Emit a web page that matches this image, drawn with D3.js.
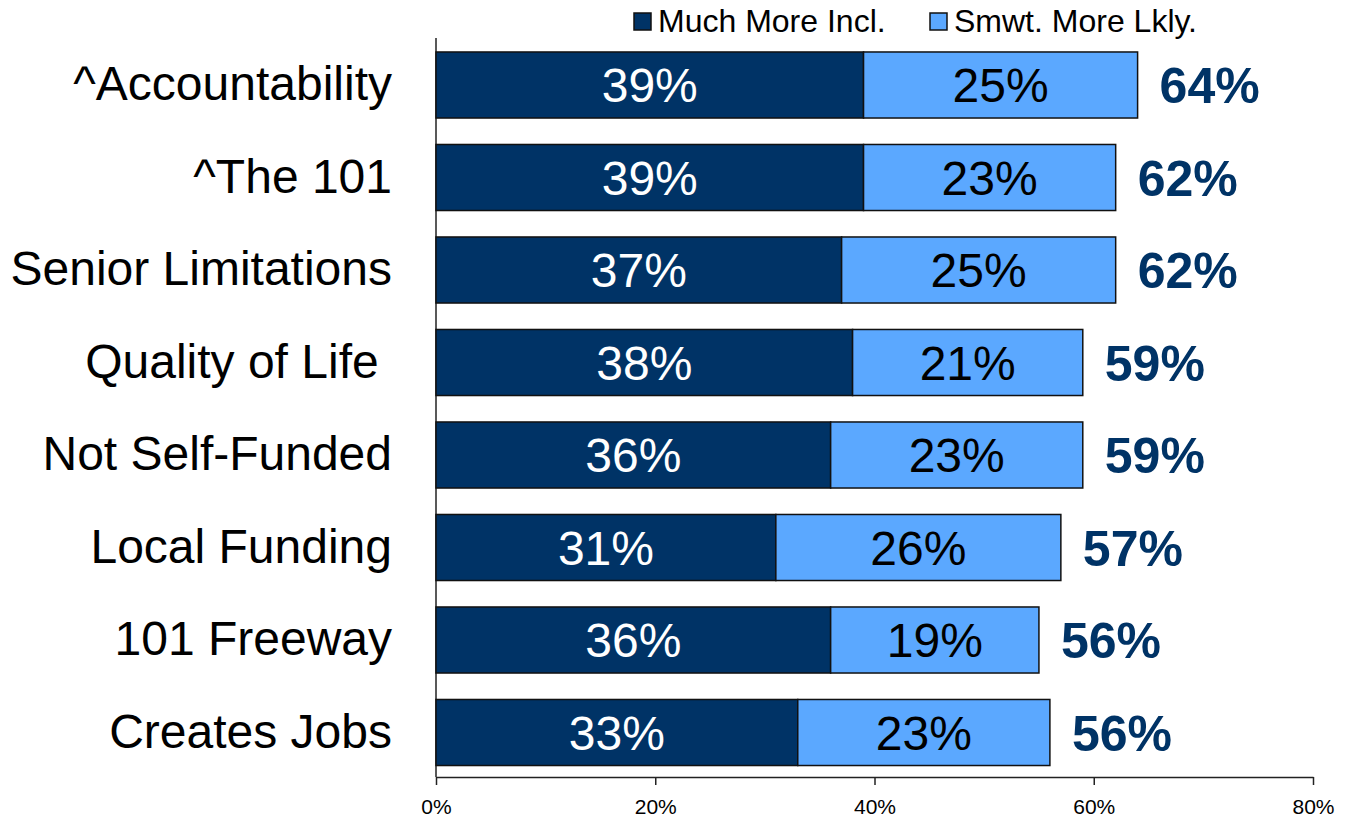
<!DOCTYPE html>
<html>
<head>
<meta charset="utf-8">
<script src="https://cdn.jsdelivr.net/npm/d3@7"></script>
<style>
  body { margin: 0; background: #fff; }
  svg { display: block; font-family: Arial, "Liberation Sans", sans-serif; }
</style>
</head>
<body>
<svg id="chart" width="1346" height="818"></svg>
<script>
const categories = [
  "^Accountability",
  "^The 101",
  "Senior Limitations",
  "Quality of Life ",
  "Not Self-Funded",
  "Local Funding",
  "101 Freeway",
  "Creates Jobs"
];
const muchMore = [39, 39, 37, 38, 36, 31, 36, 33];
const smwtMore = [25, 23, 25, 21, 23, 26, 19, 23];
const totals = [64, 62, 62, 59, 59, 57, 56, 56];
const seriesNames = ["Much More Incl.", "Smwt. More Lkly."];
const tickValues = [0, 20, 40, 60, 80];

const dark = "#003366";
const light = "#5BA8FF";

const svg = d3.select("#chart");

const x = d3.scaleLinear().domain([0, 80]).range([436, 1313]);
const y = d3
  .scaleBand()
  .domain(categories)
  .range([38.75, 778.75])
  .paddingInner(0.286)
  .paddingOuter(0.143);

const rows = categories.map((c, i) => ({
  cat: c,
  a: muchMore[i],
  b: smwtMore[i],
  total: totals[i]
}));

// x axis
const xAxis = svg
  .append("g")
  .attr("transform", "translate(0,777)")
  .call(
    d3
      .axisBottom(x)
      .tickValues(tickValues)
      .tickSize(8)
      .tickSizeOuter(0)
      .tickFormat(d => d + "%")
  );
xAxis.select(".domain").attr("stroke", "#222").attr("stroke-width", 1.5);
xAxis.selectAll(".tick line").attr("stroke", "#222").attr("stroke-width", 1.5);
xAxis
  .selectAll(".tick text")
  .attr("y", 0)
  .attr("dy", 37)
  .attr("fill", "#000")
  .style("font-size", "21px")
  .style("font-family", "Arial, 'Liberation Sans', sans-serif");

// y axis line
svg
  .append("line")
  .attr("x1", x(0))
  .attr("x2", x(0))
  .attr("y1", 38)
  .attr("y2", 777)
  .attr("stroke", "#222")
  .attr("stroke-width", 1.5);

const row = svg
  .selectAll("g.row")
  .data(rows)
  .enter()
  .append("g")
  .classed("row", true);

row
  .append("rect")
  .attr("x", x(0))
  .attr("y", d => y(d.cat))
  .attr("width", d => x(d.a) - x(0))
  .attr("height", y.bandwidth())
  .attr("fill", dark)
  .attr("stroke", "#111")
  .attr("stroke-width", 1.5);

row
  .append("rect")
  .attr("x", d => x(d.a))
  .attr("y", d => y(d.cat))
  .attr("width", d => x(d.a + d.b) - x(d.a))
  .attr("height", y.bandwidth())
  .attr("fill", light)
  .attr("stroke", "#111")
  .attr("stroke-width", 1.5);

const mid = d => y(d.cat) + y.bandwidth() / 2;

row
  .append("text")
  .attr("x", d => (x(0) + x(d.a)) / 2)
  .attr("y", d => mid(d) + 17)
  .attr("text-anchor", "middle")
  .attr("fill", "#fff")
  .style("font-size", "48px")
  .text(d => d.a + "%");

row
  .append("text")
  .attr("x", d => (x(d.a) + x(d.a + d.b)) / 2)
  .attr("y", d => mid(d) + 17)
  .attr("text-anchor", "middle")
  .attr("fill", "#000")
  .style("font-size", "48px")
  .text(d => d.b + "%");

row
  .append("text")
  .attr("x", d => x(d.a + d.b) + 22)
  .attr("y", d => mid(d) + 18)
  .attr("fill", dark)
  .style("font-size", "50px")
  .style("font-weight", "bold")
  .text(d => d.total + "%");

row
  .append("text")
  .attr("x", 392)
  .attr("y", d => mid(d) + 15)
  .attr("text-anchor", "end")
  .attr("fill", "#000")
  .style("font-size", "48px")
  .style("white-space", "pre")
  .attr("xml:space", "preserve")
  .text(d => d.cat);

// legend
const legendX = [634, 930];
const legend = svg
  .selectAll("g.legend")
  .data(seriesNames)
  .enter()
  .append("g")
  .classed("legend", true)
  .attr("transform", (d, i) => `translate(${legendX[i]},13)`);

legend
  .append("rect")
  .attr("width", 17)
  .attr("height", 17)
  .attr("fill", (d, i) => (i === 0 ? dark : light))
  .attr("stroke", "#111")
  .attr("stroke-width", 1.5);

legend
  .append("text")
  .attr("x", 24)
  .attr("y", 19)
  .attr("fill", "#000")
  .style("font-size", "32px")
  .text(d => d);
</script>
</body>
</html>
